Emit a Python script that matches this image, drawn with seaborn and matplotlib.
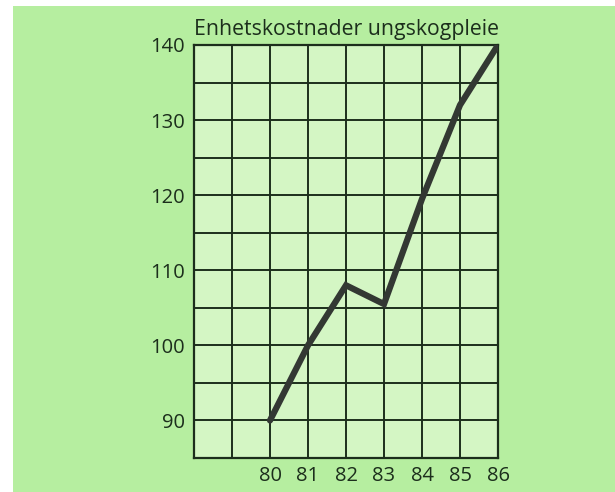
import matplotlib
matplotlib.use("Agg")
import matplotlib.pyplot as plt
import seaborn as sns
import pandas as pd
from matplotlib.patches import Rectangle

years = [80, 81, 82, 83, 84, 85, 86]
costs = [90, 100, 108, 105.5, 119.5, 132, 140]
title = "Enhetskostnader ungskogpleie"
y_labels = [90, 100, 110, 120, 130, 140]

sns.set_theme(style="white")
plt.rcParams['font.family'] = ['Open Sans', 'DejaVu Sans']

bg = "#b6eea0"
cell = "#d4f6c4"
ink = "#1c2e1c"

fig = plt.figure(figsize=(6.15, 4.92), dpi=100, facecolor="white")
fig.patches.append(Rectangle((13/615, 0), 1 - 13/615, 1 - 6/492, transform=fig.transFigure,
                             facecolor=bg, edgecolor="none", zorder=-10))
ax = fig.add_axes([194/615, 1 - 458/492, (498 - 194)/615, (458 - 45)/492])
ax.set_zorder(5)
ax.set_facecolor(cell)

df = pd.DataFrame({"year": years, "cost": costs})
sns.lineplot(data=df, x="year", y="cost", ax=ax, color="#333833", linewidth=4.5,
             solid_joinstyle="miter", zorder=5)

ax.set_xlim(78, 86)
ax.set_ylim(85, 140)
ax.set_xticks(list(range(78, 87)))
ax.set_xticklabels(["", ""] + [str(y) for y in years])
ax.set_yticks(list(range(85, 141, 5)))
ax.set_yticklabels([str(v) if v in y_labels else "" for v in range(85, 141, 5)])
ax.grid(True, color=ink, linewidth=1.4)
ax.tick_params(axis="both", length=0, labelsize=14.5, colors=ink)
ax.tick_params(axis="y", pad=6.5)
ax.tick_params(axis="x", pad=6)
ax.set_xlabel("")
ax.set_ylabel("")
for s in ax.spines.values():
    s.set_color(ink)
    s.set_linewidth(1.6)
    s.set_visible(True)

ax.set_title(title, fontsize=15.3, color=ink, pad=7.5, x=0.5)

fig.savefig("out.png", dpi=100, facecolor=fig.get_facecolor())
